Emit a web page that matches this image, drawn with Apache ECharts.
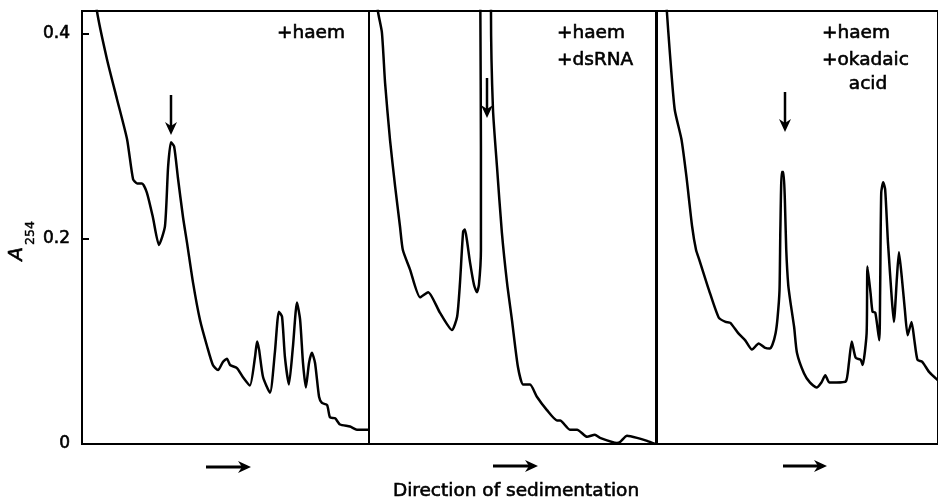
<!DOCTYPE html>
<html>
<head>
<meta charset="utf-8">
<script src="https://cdn.jsdelivr.net/npm/echarts@6/dist/echarts.min.js"></script>
<style>
  html, body { margin: 0; padding: 0; background: #fff; }
  #main { width: 938px; height: 502px; }
</style>
</head>
<body>
<div id="main"></div>
<script>
// position along the gradient (% of panel width) and A254 readings, one pair per panel
var haemPos = [4.2, 5.2, 8.7, 12.2, 15.7, 17.8, 19.2, 20.9, 22.6, 24.7, 26.8, 28.9, 30.0, 31.0, 32.1, 33.4, 35.2, 36.6, 38.7, 41.1, 43.6, 45.6, 47.4, 49.1, 50.5, 51.6, 54.0, 56.1, 58.5, 60.3, 61.0, 61.7, 63.1, 65.5, 67.2, 68.6, 69.7, 70.7, 72.1, 73.5, 74.9, 76.0, 77.0, 78.0, 79.1, 80.1, 81.2, 82.6, 83.6, 85.4, 86.4, 88.2, 89.9, 93.4, 95.8, 99.7];
var haemA = [0.453, 0.422, 0.375, 0.336, 0.297, 0.258, 0.254, 0.254, 0.245, 0.221, 0.194, 0.212, 0.270, 0.294, 0.290, 0.260, 0.221, 0.196, 0.157, 0.121, 0.095, 0.077, 0.072, 0.080, 0.083, 0.077, 0.074, 0.065, 0.057, 0.085, 0.100, 0.092, 0.065, 0.050, 0.089, 0.129, 0.124, 0.085, 0.058, 0.095, 0.138, 0.121, 0.079, 0.055, 0.079, 0.089, 0.079, 0.046, 0.040, 0.038, 0.026, 0.025, 0.019, 0.017, 0.014, 0.014];

var dsrnaPos = [2.4, 3.1, 4.5, 5.6, 7.3, 9.1, 10.8, 11.8, 14.3, 17.8, 20.6, 24.7, 28.9, 30.7, 31.7, 32.8, 33.4, 34.1, 35.2, 36.6, 37.6, 38.3, 39.0, 39.0, 38.8, 38.7, 42.5, 42.5, 43.2, 44.6, 46.3, 48.1, 49.8, 51.9, 53.7, 56.1, 58.5, 62.0, 65.5, 66.6, 70.0, 72.5, 76.0, 78.7, 80.5, 86.4, 87.5, 89.9, 93.4, 96.9, 99.7];
var dsrnaA = [0.453, 0.422, 0.401, 0.352, 0.297, 0.251, 0.212, 0.189, 0.170, 0.143, 0.148, 0.128, 0.111, 0.124, 0.157, 0.207, 0.209, 0.199, 0.177, 0.155, 0.148, 0.155, 0.189, 0.287, 0.422, 0.453, 0.453, 0.422, 0.326, 0.270, 0.206, 0.157, 0.121, 0.075, 0.058, 0.058, 0.046, 0.033, 0.023, 0.023, 0.014, 0.014, 0.007, 0.009, 0.006, 0.001, 0.002, 0.008, 0.006, 0.003, 0.0];

var okadaicPos = [2.8, 3.5, 4.5, 6.3, 8.7, 10.5, 12.5, 13.9, 15.0, 18.5, 22.0, 24.4, 26.1, 28.9, 31.4, 33.8, 36.2, 38.3, 40.1, 41.1, 42.2, 42.9, 43.6, 43.9, 44.4, 45.0, 45.5, 46.0, 46.7, 47.4, 48.8, 49.8, 52.3, 54.4, 56.8, 58.5, 59.9, 61.3, 63.8, 67.2, 68.3, 69.3, 70.7, 72.5, 73.2, 74.6, 74.9, 76.0, 76.7, 77.7, 79.1, 79.4, 79.8, 80.5, 81.2, 82.2, 83.6, 84.3, 85.4, 86.1, 87.1, 88.2, 89.2, 90.6, 91.6, 92.7, 94.4, 96.9, 100];
var okadaicA = [0.453, 0.422, 0.384, 0.326, 0.297, 0.260, 0.212, 0.189, 0.180, 0.150, 0.123, 0.119, 0.118, 0.108, 0.101, 0.092, 0.098, 0.094, 0.093, 0.097, 0.108, 0.123, 0.150, 0.209, 0.265, 0.265, 0.238, 0.189, 0.155, 0.140, 0.114, 0.089, 0.069, 0.060, 0.055, 0.060, 0.067, 0.060, 0.060, 0.061, 0.079, 0.100, 0.084, 0.082, 0.077, 0.108, 0.173, 0.147, 0.129, 0.128, 0.101, 0.147, 0.245, 0.255, 0.248, 0.196, 0.140, 0.119, 0.163, 0.187, 0.163, 0.131, 0.106, 0.119, 0.101, 0.082, 0.080, 0.070, 0.062];

var yTicks = [0, 0.2, 0.4];
var yMax = 0.422;

function pairs(xs, ys) {
  return xs.map(function (x, i) { return [x, ys[i]]; });
}

var font = 'DejaVu Sans';
var panelLeft = [82, 369, 657];

var grids = [], xAxes = [], yAxes = [], series = [];
var curves = [pairs(haemPos, haemA), pairs(dsrnaPos, dsrnaA), pairs(okadaicPos, okadaicA)];
for (var i = 0; i < 3; i++) {
  grids.push({
    left: panelLeft[i], top: 11, width: 287, height: 433,
    show: true, borderColor: '#000', borderWidth: 2, backgroundColor: 'transparent'
  });
  xAxes.push({
    type: 'value', gridIndex: i, min: 0, max: 100,
    axisLine: { show: false }, axisTick: { show: false },
    axisLabel: { show: false }, splitLine: { show: false }
  });
  yAxes.push({
    type: 'value', gridIndex: i, min: 0, max: yMax,
    axisLine: { show: false },
    axisTick: { show: i === 0, inside: true, length: 7, lineStyle: { color: '#000', width: 2 }, customValues: yTicks },
    axisLabel: {
      show: i === 0, customValues: yTicks, margin: 12,
      color: '#000', fontFamily: font, fontSize: 17,
      textBorderColor: '#000', textBorderWidth: 0.6,
      formatter: function (v) { return v === 0 ? '0' : v.toFixed(1); }
    },
    splitLine: { show: false }
  });
  series.push({
    type: 'line', xAxisIndex: i, yAxisIndex: i,
    data: curves[i], showSymbol: false, smooth: 0.2, clip: true,
    lineStyle: { color: '#000', width: 2.5 }
  });
}

function hArrow(x1, x2, y) {
  return [
    { type: 'line', shape: { x1: x1, y1: y, x2: x2 - 4, y2: y }, style: { stroke: '#000', lineWidth: 3 } },
    { type: 'polygon', shape: { points: [[x2 - 13, y - 6], [x2, y], [x2 - 13, y + 6], [x2 - 9, y]] }, style: { fill: '#000' } }
  ];
}
function vArrow(x, y1, y2) {
  return [
    { type: 'line', shape: { x1: x, y1: y1, x2: x, y2: y2 - 4 }, style: { stroke: '#000', lineWidth: 2.5 } },
    { type: 'polygon', shape: { points: [[x - 6, y2 - 13], [x, y2], [x + 6, y2 - 13], [x, y2 - 9]] }, style: { fill: '#000' } }
  ];
}
function label(text, x, y, align) {
  return {
    type: 'text', x: x, y: y,
    style: {
      text: text, fill: '#000', stroke: '#000', lineWidth: 0.6,
      font: '18.5px "' + font + '"', align: align || 'left', verticalAlign: 'middle'
    }
  };
}

var graphic = []
  .concat(hArrow(206, 251, 467), hArrow(493, 538, 466), hArrow(783, 827, 466))
  .concat(vArrow(171, 95, 135), vArrow(487, 78, 118), vArrow(785, 92, 132))
  .concat([
    label('+haem', 277, 33),
    label('+haem', 557, 33),
    label('+dsRNA', 557, 60),
    label('+haem', 822, 33),
    label('+okadaic', 822, 60),
    label('acid', 868, 84, 'center'),
    label('Direction of sedimentation', 516, 491, 'center'),
    {
      type: 'text', x: 17, y: 254, rotation: Math.PI / 2,
      style: { text: 'A', fill: '#000', stroke: '#000', lineWidth: 0.6, font: 'italic 20px "' + font + '"', align: 'center', verticalAlign: 'middle' }
    },
    {
      type: 'text', x: 31, y: 233, rotation: Math.PI / 2,
      style: { text: '254', fill: '#000', stroke: '#000', lineWidth: 0.4, font: '12.5px "' + font + '"', align: 'center', verticalAlign: 'middle' }
    }
  ]);

var myChart = echarts.init(document.getElementById('main'));
myChart.setOption({
  animation: false,
  backgroundColor: '#fff',
  grid: grids,
  xAxis: xAxes,
  yAxis: yAxes,
  series: series,
  graphic: graphic
});
</script>
</body>
</html>
